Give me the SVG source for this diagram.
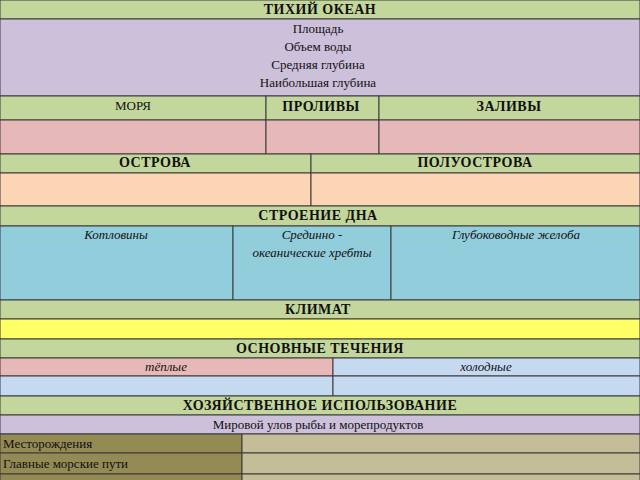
<svg xmlns="http://www.w3.org/2000/svg" width="640" height="480" viewBox="0 0 640 480">
<style>
rect{stroke:#3a3a3a;stroke-width:1}
text{font-family:"Liberation Serif",serif;font-size:13px;fill:#111;text-anchor:middle}
.b{font-weight:bold;font-size:14px;letter-spacing:0.5px}
.i{font-style:italic}
.l{text-anchor:start}
.g{fill:#c3d69b}.p{fill:#ccc0da}.r{fill:#e6b9b8}.o{fill:#fcd5b4}.t{fill:#92cddc}.y{fill:#ffff66}.lb{fill:#c5d9f1}.ol{fill:#948a54}.tn{fill:#c4bd97}
</style>
<g id="title"><rect class="g" x="0" y="0" width="640" height="19"/><text class="b" x="320" y="14">ТИХИЙ ОКЕАН</text></g>
<g id="params"><rect class="p" x="0" y="19" width="640" height="77"/>
<text x="318" y="33">Площадь</text><text x="318" y="51">Объем воды</text><text x="318" y="69">Средняя глубина</text><text x="318" y="87">Наибольшая глубина</text></g>
<g id="seas"><rect class="g" x="0" y="96" width="266" height="24"/><rect class="r" x="0" y="120" width="266" height="34"/><text x="133" y="110">МОРЯ</text></g>
<g id="straits"><rect class="g" x="266" y="96" width="113" height="24"/><rect class="r" x="266" y="120" width="113" height="34"/><text class="b" x="321" y="111">ПРОЛИВЫ</text></g>
<g id="bays"><rect class="g" x="379" y="96" width="261" height="24"/><rect class="r" x="379" y="120" width="261" height="34"/><text class="b" x="509" y="111">ЗАЛИВЫ</text></g>
<g id="islands"><rect class="g" x="0" y="154" width="311" height="19"/><rect class="o" x="0" y="173" width="311" height="33"/><text class="b" x="155" y="167">ОСТРОВА</text></g>
<g id="peninsulas"><rect class="g" x="311" y="154" width="329" height="19"/><rect class="o" x="311" y="173" width="329" height="33"/><text class="b" x="475" y="167">ПОЛУОСТРОВА</text></g>
<g id="bottom"><rect class="g" x="0" y="206" width="640" height="20"/><text class="b" x="318" y="220">СТРОЕНИЕ ДНА</text></g>
<g id="basins"><rect class="t" x="0" y="226" width="233" height="74"/><text class="i" x="116" y="239">Котловины</text></g>
<g id="ridges"><rect class="t" x="233" y="226" width="158" height="74"/><text class="i" x="312" y="239">Срединно -</text><text class="i" x="312" y="257">океанические хребты</text></g>
<g id="trenches"><rect class="t" x="391" y="226" width="249" height="74"/><text class="i" x="516" y="239">Глубоководные желоба</text></g>
<g id="climate"><rect class="g" x="0" y="300" width="640" height="19"/><rect class="y" x="0" y="319" width="640" height="20"/><text class="b" x="318" y="314">КЛИМАТ</text></g>
<g id="currents"><rect class="g" x="0" y="339" width="640" height="19"/><text class="b" x="320" y="353">ОСНОВНЫЕ ТЕЧЕНИЯ</text></g>
<g id="warm"><rect class="r" x="0" y="358" width="333" height="18"/><rect class="lb" x="0" y="376" width="333" height="20"/><text class="i" x="166" y="371">тёплые</text></g>
<g id="cold"><rect class="lb" x="333" y="358" width="307" height="18"/><rect class="lb" x="333" y="376" width="307" height="20"/><text class="i" x="486" y="371">холодные</text></g>
<g id="economy"><rect class="g" x="0" y="396" width="640" height="19"/><text class="b" x="320" y="410">ХОЗЯЙСТВЕННОЕ  ИСПОЛЬЗОВАНИЕ</text></g>
<g id="fish"><rect class="p" x="0" y="415" width="640" height="19"/><text x="318" y="429">Мировой улов рыбы и морепродуктов</text></g>
<g id="deposits"><rect class="ol" x="0" y="434" width="242" height="19"/><rect class="tn" x="242" y="434" width="398" height="19"/><text class="l" x="3" y="448">Месторождения</text></g>
<g id="routes"><rect class="ol" x="0" y="453" width="242" height="21"/><rect class="tn" x="242" y="453" width="398" height="21"/><text class="l" x="3" y="468">Главные морские пути</text></g>
<g id="last"><rect class="ol" x="0" y="474" width="242" height="10"/><rect class="tn" x="242" y="474" width="398" height="10"/></g>
<g id="connectors"/>
</svg>
